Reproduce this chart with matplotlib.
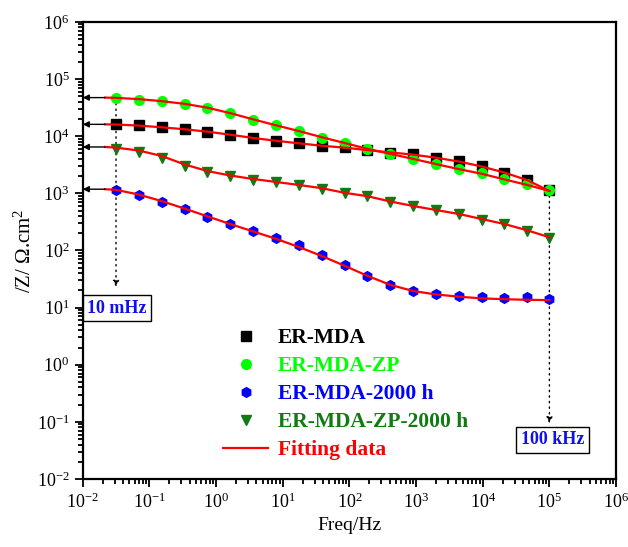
import matplotlib
matplotlib.use('Agg')
import matplotlib.pyplot as plt
from matplotlib.lines import Line2D

plt.rcParams['font.family'] = 'serif'
plt.rcParams['font.serif'] = ['Liberation Serif', 'DejaVu Serif']
plt.rcParams['mathtext.fontset'] = 'custom'
plt.rcParams['mathtext.rm'] = 'Liberation Serif'
plt.rcParams['mathtext.it'] = 'Liberation Serif:italic'
plt.rcParams['axes.unicode_minus'] = False

# measured frequencies (Hz)
freq = [0.0316, 0.0696, 0.153, 0.337, 0.742, 1.63, 3.60, 7.92, 17.4, 38.4,
        84.5, 186, 410, 902, 1985, 4370, 9620, 21200, 46600, 100000]

z_er_mda = [16100, 15500, 14200, 13200, 11900, 10500, 9190, 8240, 7510, 6730,
            6390, 5660, 5160, 4820, 4220, 3680, 2970, 2270, 1690, 1130]
z_er_mda_zp = [46700, 43800, 40800, 37200, 31700, 25500, 19500, 15500, 12200, 9450,
               7600, 5900, 4960, 4050, 3310, 2710, 2300, 1810, 1480, 1130]
z_er_mda_2000 = [1160, 923, 705, 525, 385, 286, 216, 168, 123, 84.4,
                 54.8, 35.6, 24.5, 19.5, 17.5, 16.1, 15.3, 14.9, 15.3, 14.3]
z_er_mda_zp_2000 = [5900, 5290, 4220, 2970, 2360, 1990, 1740, 1560, 1380, 1210,
                    1000, 885, 705, 592, 504, 429, 346, 286, 219, 167]

# fitted curves
fit_freq = [0.0216] + freq
fit_er_mda = [16100, 16000, 15300, 14300, 13200, 12000, 10600, 9300, 8300, 7500,
              6800, 6300, 5700, 5200, 4750, 4200, 3600, 2950, 2300, 1700, 1100]
fit_er_mda_zp = [47300, 46800, 44500, 41000, 36800, 31500, 25300, 19700, 15500, 12300,
                 9600, 7600, 6000, 4900, 4000, 3250, 2650, 2200, 1750, 1400, 1100]
fit_er_mda_2000 = [1180, 1150, 950, 730, 540, 395, 290, 215, 160, 115,
                   80, 54, 36, 25, 19.5, 17, 15.5, 14.5, 14, 13.7, 13.5]
fit_er_mda_zp_2000 = [6470, 6300, 5600, 4500, 3200, 2450, 2050, 1780, 1580, 1400,
                      1230, 1020, 890, 720, 600, 510, 435, 355, 290, 225, 170]

labels = ['ER-MDA', 'ER-MDA-ZP', 'ER-MDA-2000 h', 'ER-MDA-ZP-2000 h', 'Fitting data']
colors = ['black', '#00ff00', '#0000ff', '#127a12', '#ff0000']
markers = ['s', 'o', 'h', 'v']

fig = plt.figure(figsize=(6.28, 5.47), dpi=100)
ax = fig.add_axes([0.1317, 0.1243, 0.8493, 0.8357])

series = [z_er_mda, z_er_mda_zp, z_er_mda_2000, z_er_mda_zp_2000]
fits = [fit_er_mda, fit_er_mda_zp, fit_er_mda_2000, fit_er_mda_zp_2000]

for s, c, m in zip(series, colors, markers):
    ax.plot(freq, s, linestyle='none', marker=m, color=c, markersize=7, zorder=3)
for f in fits:
    ax.plot(fit_freq, f, color='red', lw=1.6, zorder=4)

# arrows to the y axis
for f in fits:
    ax.annotate('', xy=(0.01, f[0]), xytext=(fit_freq[0], f[0]),
                arrowprops=dict(arrowstyle='-|>', color='black', lw=1, mutation_scale=9,
                                shrinkA=0, shrinkB=0), zorder=5)

# dotted markers for first and last frequency
ax.annotate('', xy=(freq[0], 23), xytext=(freq[0], z_er_mda_zp[0]),
            arrowprops=dict(arrowstyle='-|>', color='black', lw=1, ls=(0, (1, 3)),
                            mutation_scale=9, shrinkA=0, shrinkB=0), zorder=1)
ax.annotate('', xy=(freq[-1], 0.094), xytext=(freq[-1], z_er_mda_zp[-1]),
            arrowprops=dict(arrowstyle='-|>', color='black', lw=1, ls=(0, (1, 3)),
                            mutation_scale=9, shrinkA=0, shrinkB=0), zorder=1)
box = dict(boxstyle='square,pad=0.25', fc='white', ec='black', lw=1)
ax.text(0.0327, 9.7, '10 mHz', color='#1010ee', fontsize=13, fontweight='bold',
        ha='center', va='center', bbox=box)
ax.text(1.12e5, 0.049, '100 kHz', color='#1010ee', fontsize=13, fontweight='bold',
        ha='center', va='center', bbox=box)

ax.set_xscale('log')
ax.set_yscale('log')
ax.set_xlim(1e-2, 1e6)
ax.set_ylim(1e-2, 1e6)
ax.set_xlabel('Freq/Hz', fontsize=14)
ax.set_ylabel('/Z/ Ω.cm$^2$', fontsize=15, labelpad=1)
ax.tick_params(which='both', direction='out', top=False, right=False,
               labelsize=13, width=1.3)
ax.tick_params(which='major', length=6)
ax.tick_params(which='minor', length=3.5)
for sp in ax.spines.values():
    sp.set_linewidth(1.6)

handles = [Line2D([], [], linestyle='none', marker=m, color=c, markersize=7)
           for c, m in zip(colors[:4], markers)]
handles.append(Line2D([], [], color='red', lw=1.6))
leg = ax.legend(handles, labels, loc='upper left', bbox_to_anchor=(0.263, 0.33),
                frameon=False, prop={'weight': 'bold', 'size': 15.5},
                handlelength=2.1, handletextpad=0.45, labelspacing=0.37,
                borderpad=0, borderaxespad=0)
for t, c in zip(leg.get_texts(), colors):
    t.set_color(c)

fig.savefig('out.png', dpi=100)
